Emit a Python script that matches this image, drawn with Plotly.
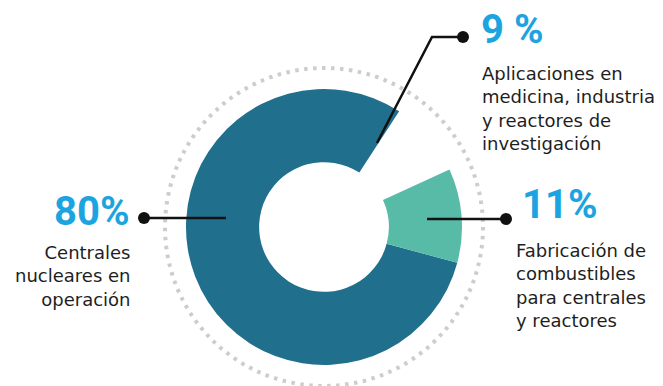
import plotly.graph_objects as go

# Data
labels = ["Centrales nucleares en operación",
          "Aplicaciones en medicina, industria y reactores de investigación",
          "Fabricación de combustibles para centrales y reactores"]
values = [80, 9, 11]
pct_text = ["80%", "9 %", "11%"]
desc_text = ["Centrales<br>nucleares en<br>operación",
             "Aplicaciones en<br>medicina, industria<br>y reactores de<br>investigación",
             "Fabricación de<br>combustibles<br>para centrales<br>y reactores"]

W, H = 663, 386
DARK = "#1f6f8d"
LIGHT = "#58bba8"
BLUE = "#1ca4e0"
INK = "#111111"
TXT = "#1e1e1e"

cx, cy, R = 324, 227, 138
Rdot = 159

fig = go.Figure()
fig.add_trace(go.Pie(
    labels=labels, values=values, sort=False, direction="clockwise",
    rotation=105, hole=0.47, textinfo="none", hoverinfo="label+percent",
    marker=dict(colors=[DARK, "rgba(0,0,0,0)", LIGHT], line=dict(width=0)),
    domain=dict(x=[(cx - R) / W, (cx + R) / W], y=[(H - cy - R) / H, (H - cy + R) / H]),
    showlegend=False,
))

# invisible pixel-space axes for callouts
fig.add_trace(go.Scatter(x=[0, W], y=[0, H], mode="markers", marker=dict(opacity=0),
                         hoverinfo="skip", showlegend=False))

shapes = [
    # dotted ring
    dict(type="circle", xref="x", yref="y", x0=cx - Rdot, x1=cx + Rdot, y0=cy - Rdot, y1=cy + Rdot,
         line=dict(color="#cdcdcd", width=4, dash="3.5px,5.5px"), layer="below"),
    # left callout
    dict(type="line", xref="x", yref="y", x0=144, y0=218, x1=226, y1=218, line=dict(color=INK, width=2.5)),
    dict(type="circle", xref="x", yref="y", x0=138, x1=150, y0=212, y1=224, fillcolor=INK, line=dict(width=0)),
    # top callout
    dict(type="path", xref="x", yref="y", path="M 463 37 L 432 37 L 377 143",
         line=dict(color=INK, width=2.5)),
    dict(type="circle", xref="x", yref="y", x0=457, x1=469, y0=31, y1=43, fillcolor=INK, line=dict(width=0)),
    # right callout
    dict(type="line", xref="x", yref="y", x0=427, y0=219, x1=506, y1=219, line=dict(color=INK, width=2.5)),
    dict(type="circle", xref="x", yref="y", x0=500, x1=512, y0=213, y1=225, fillcolor=INK, line=dict(width=0)),
]

pfont = dict(family="Roboto, Liberation Sans, sans-serif", size=40, color=BLUE)
dfont = dict(family="DejaVu Sans, sans-serif", size=18, color=TXT)

annotations = [
    dict(x=131, y=211, text="<b>" + pct_text[0] + "</b>", xanchor="right", yanchor="middle", font=pfont),
    dict(x=132, y=240, text=desc_text[0], xanchor="right", yanchor="top", align="right", font=dfont),
    dict(x=479, y=29, text="<b>" + pct_text[1] + "</b>", xanchor="left", yanchor="middle", font=pfont),
    dict(x=480, y=61, text=desc_text[1], xanchor="left", yanchor="top", align="left", font=dfont),
    dict(x=520, y=204, text="<b>" + pct_text[2] + "</b>", xanchor="left", yanchor="middle", font=pfont),
    dict(x=514, y=238, text=desc_text[2], xanchor="left", yanchor="top", align="left", font=dfont),
]
for a in annotations:
    a.update(xref="x", yref="y", showarrow=False)

fig.update_layout(
    width=W, height=H, margin=dict(l=0, r=0, t=0, b=0),
    paper_bgcolor="white", plot_bgcolor="rgba(0,0,0,0)",
    xaxis=dict(range=[0, W], visible=False, fixedrange=True, domain=[0, 1]),
    yaxis=dict(range=[H, 0], visible=False, fixedrange=True, domain=[0, 1]),
    shapes=shapes, annotations=annotations,
)

fig.write_html("out.html")
